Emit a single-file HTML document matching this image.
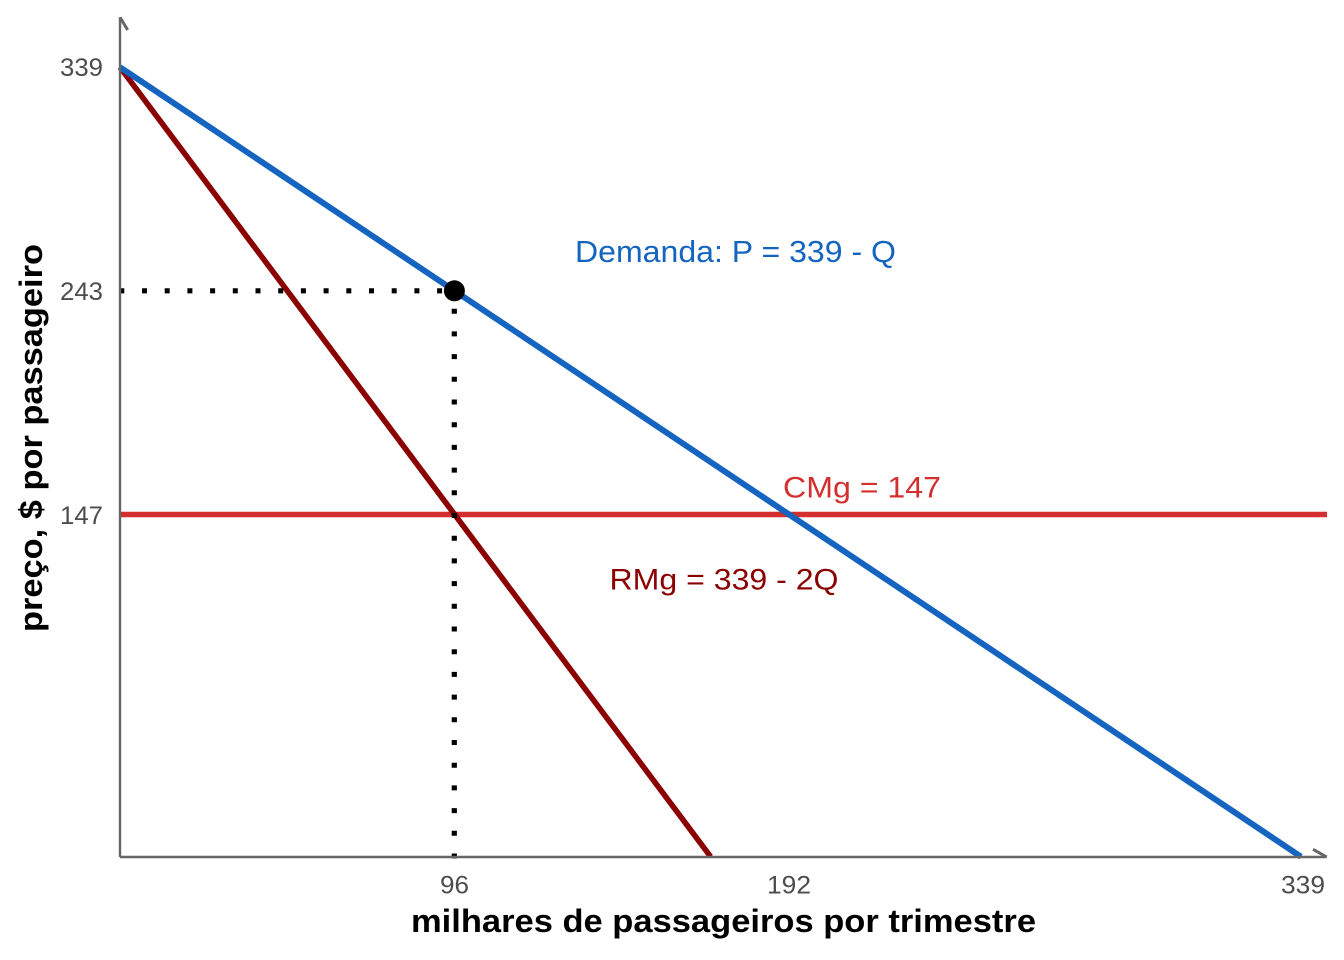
<!DOCTYPE html>
<html>
<head>
<meta charset="utf-8">
<style>
  html, body { margin: 0; padding: 0; background: #ffffff; }
  svg { display: block; }
  text { font-family: "Liberation Sans", Arial, Helvetica, sans-serif; }
</style>
</head>
<body>
<svg width="1344" height="960" viewBox="0 0 1344 960" xmlns="http://www.w3.org/2000/svg">
  <rect x="0" y="0" width="1344" height="960" fill="#ffffff"/>

  <!-- CMg horizontal line -->
  <line x1="120" y1="514.5" x2="1327" y2="514.5" stroke="#D32F2F" stroke-width="5.5"/>

  <!-- RMg line -->
  <line x1="120" y1="67.2" x2="710.6" y2="856.7" stroke="#8B0000" stroke-width="5.6"/>

  <!-- Demand line -->
  <line x1="120" y1="67.2" x2="1301" y2="856.7" stroke="#1565C0" stroke-width="6"/>

  <!-- dotted guides -->
  <line x1="119.3" y1="290.8" x2="454.3" y2="290.8" stroke="#000" stroke-width="5.2" stroke-dasharray="5 17.7"/>
  <line x1="454.3" y1="858.5" x2="454.3" y2="290.8" stroke="#000" stroke-width="5.2" stroke-dasharray="5 17.7"/>

  <!-- equilibrium point -->
  <circle cx="454.4" cy="290.8" r="10.5" fill="#000"/>

  <!-- axes -->
  <g stroke="#666666" stroke-width="2.4" fill="none">
    <line x1="120" y1="857" x2="120" y2="17.3"/>
    <line x1="120" y1="17.3" x2="127.7" y2="30" stroke-width="3"/>
    <line x1="120" y1="857" x2="1326.7" y2="857"/>
    <line x1="1326.7" y1="857" x2="1313" y2="849.3" stroke-width="3"/>
  </g>

  <!-- y tick labels -->
  <g fill="#4d4d4d" font-size="25" text-anchor="end">
    <text x="103" y="76" textLength="43" lengthAdjust="spacingAndGlyphs">339</text>
    <text x="103" y="300" textLength="43" lengthAdjust="spacingAndGlyphs">243</text>
    <text x="103" y="524" textLength="43" lengthAdjust="spacingAndGlyphs">147</text>
  </g>

  <!-- x tick labels -->
  <g fill="#4d4d4d" font-size="25" text-anchor="middle">
    <text x="454.5" y="893.5" textLength="29" lengthAdjust="spacingAndGlyphs">96</text>
    <text x="789" y="893.5" textLength="44" lengthAdjust="spacingAndGlyphs">192</text>
    <text x="1303" y="893.5" textLength="44" lengthAdjust="spacingAndGlyphs">339</text>
  </g>

  <!-- axis titles -->
  <text x="723.5" y="932" font-size="32" font-weight="bold" fill="#000" text-anchor="middle" textLength="625" lengthAdjust="spacingAndGlyphs">milhares de passageiros por trimestre</text>
  <text transform="translate(42,438) rotate(-90)" x="0" y="0" font-size="32" font-weight="bold" fill="#000" text-anchor="middle" textLength="388" lengthAdjust="spacingAndGlyphs">preço, $ por passageiro</text>

  <!-- annotations -->
  <text x="575" y="262" font-size="31" fill="#1565C0" textLength="321" lengthAdjust="spacingAndGlyphs">Demanda: P = 339 - Q</text>
  <text x="783" y="497.5" font-size="30" fill="#D32F2F" textLength="158" lengthAdjust="spacingAndGlyphs">CMg = 147</text>
  <text x="609.5" y="589.5" font-size="30" fill="#8B0000" textLength="229" lengthAdjust="spacingAndGlyphs">RMg = 339 - 2Q</text>
</svg>
</body>
</html>
